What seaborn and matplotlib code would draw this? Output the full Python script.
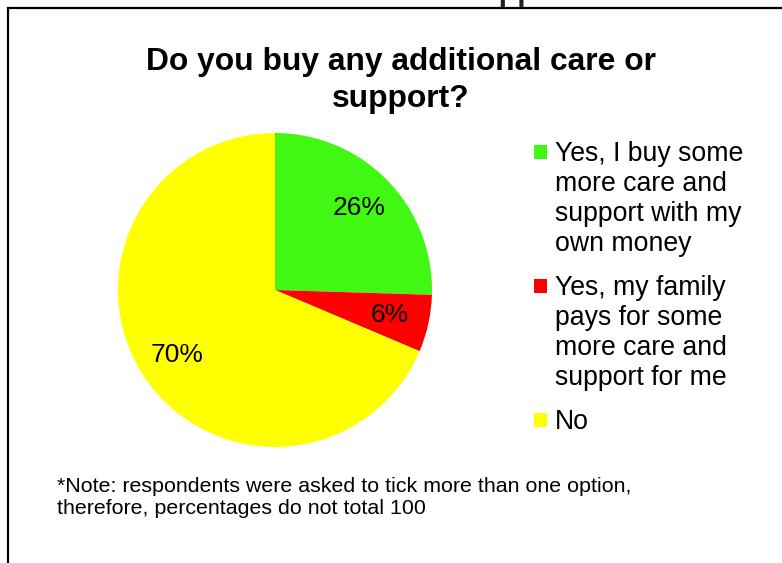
import matplotlib
matplotlib.use("Agg")
import matplotlib.pyplot as plt
from matplotlib.patches import Rectangle
import numpy as np
import seaborn as sns

# Survey answers and their shares (percent)
categories = [
    "Yes, I buy some\nmore care and\nsupport with my\nown money",
    "Yes, my family\npays for some\nmore care and\nsupport for me",
    "No",
]
values = [26, 6, 70]
slice_colors = ["#40F812", "#FF0000", "#FFFF00"]

title_text = "Do you buy any additional care or\nsupport?"
heading_text = "Chart 11: Additional care or support"
note_text = ("*Note: respondents were asked to tick more than one option,\n"
             "therefore, percentages do not total 100")

sns.set_theme(style="white")
plt.rcParams["font.family"] = ["Liberation Sans", "DejaVu Sans"]

W, H = 782, 563
fig = plt.figure(figsize=(W / 100, H / 100), dpi=100)
fig.patch.set_facecolor("white")


def fx(px):
    return px / W


def fy(py):
    return 1 - py / H


palette = sns.color_palette(slice_colors)

# Pie
cx, cy, r = 275, 290, 157
ax = fig.add_axes([fx(cx - r), fy(cy + r), 2 * r / W, 2 * r / H])
wedges, _ = ax.pie(values, colors=palette, startangle=90, counterclock=False,
                   radius=1.0, wedgeprops=dict(linewidth=0))
ax.set_xlim(-1, 1)
ax.set_ylim(-1, 1)
ax.set_aspect("equal")
ax.axis("off")

for w, v in zip(wedges, values):
    mid = np.deg2rad((w.theta1 + w.theta2) / 2)
    ax.text(0.75 * np.cos(mid), 0.75 * np.sin(mid), f"{v}%",
            ha="center", va="center", fontsize=19, color="black")

# Outer frame (continues past the right and bottom edges)
fig.patches.append(Rectangle((fx(7.5), fy(600)), 1.2, fy(8) - fy(600),
                             transform=fig.transFigure, fill=False,
                             edgecolor="black", linewidth=1.6))

# Heading of the page above the chart frame
fig.text(fx(577), fy(7), heading_text, ha="right", va="bottom",
         fontsize=22, fontweight="bold", color="#222222")

# Title (va="baseline" anchors the last line)
fig.text(fx(401), fy(107), title_text, ha="center", va="baseline",
         fontsize=22.9, fontweight="bold", color="black",
         linespacing=1.3, multialignment="center")

# Legend: squares sit by the first line of each entry
first_base = 161
line_h = 30
gap = 14
for label, col in zip(categories, palette):
    n_lines = label.count("\n") + 1
    fig.patches.append(Rectangle((fx(534), fy(first_base - 2)), 13 / W, 14 / H,
                                 transform=fig.transFigure, facecolor=col,
                                 edgecolor="none"))
    last_base = first_base + line_h * (n_lines - 1)
    fig.text(fx(555), fy(last_base), label, ha="left", va="baseline",
             fontsize=19.2, color="black", linespacing=1.2)
    first_base += line_h * n_lines + gap

# Footnote
fig.text(fx(57), fy(514), note_text, ha="left", va="baseline",
         fontsize=15.4, color="black", linespacing=1.22)

fig.savefig("out.png", dpi=100)
